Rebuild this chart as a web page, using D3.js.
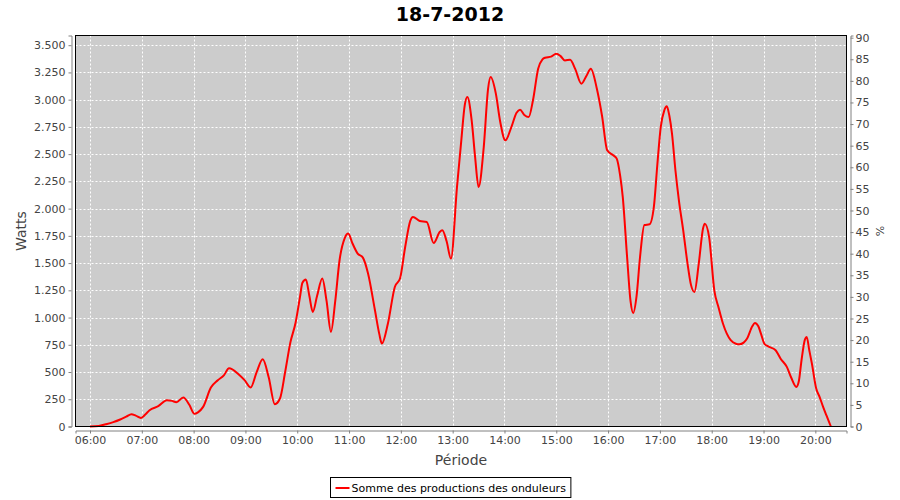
<!DOCTYPE html>
<html><head><meta charset="utf-8">
<script src="https://cdn.jsdelivr.net/npm/d3@7"></script>
<style>body{margin:0;background:#fff}svg{display:block}</style>
</head><body><svg id="c" width="900" height="500"></svg>
<script>
const chartTitle = "18-7-2012";
const seriesName = "Somme des productions des onduleurs";
const times = ["06:00","06:10","06:18","06:27","06:35","06:42","06:48","06:53","06:59","07:04","07:09","07:19","07:29","07:35","07:40","07:48","07:55","08:01","08:05","08:11","08:20","08:28","08:35","08:41","08:52","08:59","09:06","09:13","09:20","09:27","09:34","09:40","09:46","09:52","09:58","10:03","10:06","10:10","10:14","10:18","10:23","10:29","10:34","10:39","10:44","10:49","10:55","10:59","11:04","11:10","11:16","11:22","11:30","11:35","11:38","11:45","11:53","11:59","12:05","12:11","12:14","12:22","12:30","12:38","12:45","12:48","12:53","12:58","13:05","13:10","13:14","13:17","13:22","13:26","13:30","13:36","13:41","13:44","13:50","13:55","14:01","14:08","14:14","14:18","14:23","14:28","14:33","14:39","14:44","14:47","14:54","15:00","15:05","15:10","15:16","15:22","15:29","15:35","15:40","15:47","15:53","15:59","16:06","16:10","16:14","16:17","16:22","16:26","16:29","16:33","16:37","16:42","16:48","16:53","16:57","17:01","17:05","17:08","17:11","17:14","17:18","17:22","17:27","17:32","17:36","17:40","17:45","17:50","17:52","17:57","18:03","18:08","18:13","18:22","18:28","18:32","18:37","18:41","18:47","18:50","18:54","18:57","19:01","19:05","19:14","19:20","19:27","19:32","19:38","19:41","19:44","19:48","19:50","19:53","19:56","20:01","20:05","20:09","20:13","20:18"];
const watts = [0,5,20,40,64,90,113,100,79,110,150,186,241,235,223,266,200,116,130,180,358,425,470,535,480,425,358,500,617,450,205,257,500,770,950,1180,1320,1349,1200,1051,1200,1358,1150,868,1150,1526,1730,1771,1680,1587,1550,1404,1067,850,761,945,1281,1358,1648,1890,1923,1886,1877,1684,1785,1801,1700,1541,2198,2627,2950,3024,2810,2473,2198,2565,3100,3207,3055,2800,2627,2749,2880,2908,2860,2840,2994,3284,3370,3385,3395,3422,3400,3360,3367,3280,3147,3220,3284,3100,2850,2535,2489,2459,2300,2106,1556,1150,1042,1200,1556,1850,1856,2015,2400,2750,2900,2939,2850,2688,2350,2076,1800,1495,1300,1235,1495,1820,1862,1739,1250,1090,945,792,760,755,770,807,920,950,920,853,760,737,700,620,547,450,363,420,608,800,822,700,578,349,270,180,100,0];
const hourTicks = ["06:00","07:00","08:00","09:00","10:00","11:00","12:00","13:00","14:00","15:00","16:00","17:00","18:00","19:00","20:00"];
const wattTicks = [0,250,500,750,1000,1250,1500,1750,2000,2250,2500,2750,3000,3250,3500];
const pctTicks = [0,5,10,15,20,25,30,35,40,45,50,55,60,65,70,75,80,85,90];

const toMin = s => { const [h,m] = s.split(":").map(Number); return h*60+m; };
const data = times.map((t,i)=>({m:toMin(t), w:watts[i]}));

const L=75.5, R=846.5, T=35.5, B=426.5;
const svg = d3.select("#c");
const font = "DejaVu Sans, Verdana, sans-serif";
const x = d3.scaleLinear().domain([343.2, 1236.1]).range([L, R]);
const y = d3.scaleLinear().domain([0, 3589]).range([B, T]);
const y2 = d3.scaleLinear().domain([0, 90.5]).range([B, T]);
const loc = d3.formatLocale({decimal:",", thousands:".", grouping:[3], currency:["","€"]});
const fmt = loc.format(",d");

svg.append("rect").attr("x",L).attr("y",T).attr("width",R-L).attr("height",B-T).attr("fill","#cccccc");

const g = svg.append("g");
g.selectAll("line.v").data(hourTicks).join("line")
  .attr("x1",d=>Math.round(x(toMin(d)))+0.5).attr("x2",d=>Math.round(x(toMin(d)))+0.5)
  .attr("y1",T).attr("y2",B).attr("stroke","#fff").attr("stroke-width",1).attr("stroke-dasharray","2,2");
g.selectAll("line.h").data(wattTicks).join("line")
  .attr("y1",d=>Math.round(y(d))+0.5).attr("y2",d=>Math.round(y(d))+0.5)
  .attr("x1",L).attr("x2",R).attr("stroke","#fff").attr("stroke-width",1).attr("stroke-dasharray","2,2");

const line = d3.line().x(d=>x(d.m)).y(d=>y(d.w)).curve(d3.curveMonotoneX);
svg.append("path").datum(data).attr("d",line).attr("fill","none").attr("stroke","#ff0000").attr("stroke-width",2).attr("stroke-linejoin","round");

svg.append("rect").attr("x",L).attr("y",T).attr("width",R-L).attr("height",B-T).attr("fill","none").attr("stroke","#000").attr("stroke-width",1);

function styleAxis(sel){
  sel.selectAll("path.domain").attr("stroke","#808080");
  sel.selectAll(".tick line").attr("stroke","#808080");
  sel.selectAll(".tick text").attr("fill","#444").style("font-family",font).style("font-size","11px");
}
const xAxis = d3.axisBottom(x).tickValues(hourTicks.map(toMin)).tickFormat((d,i)=>hourTicks[i]).tickSizeOuter(0).tickSize(3).tickPadding(3);
svg.append("g").attr("transform",`translate(0,${B+4})`).call(xAxis).call(styleAxis);
const yAxis = d3.axisLeft(y).tickValues(wattTicks).tickFormat(fmt).tickSizeOuter(0).tickSize(3).tickPadding(3);
svg.append("g").attr("transform",`translate(${L-4},0)`).call(yAxis).call(styleAxis);
const y2Axis = d3.axisRight(y2).tickValues(pctTicks).tickFormat(d3.format("d")).tickSizeOuter(0).tickSize(3).tickPadding(2);
svg.append("g").attr("transform",`translate(${R+4},0)`).call(y2Axis).call(styleAxis);

svg.append("text").attr("x",450).attr("y",21).attr("text-anchor","middle")
  .style("font-family",font).style("font-size","19px").style("font-weight","bold").attr("fill","#000").text(chartTitle);
svg.append("text").attr("transform",`translate(26,${(T+B)/2}) rotate(-90)`).attr("text-anchor","middle")
  .style("font-family",font).style("font-size","14px").attr("fill","#444").text("Watts");
svg.append("text").attr("transform",`translate(884,${(T+B)/2}) rotate(-90)`).attr("text-anchor","middle")
  .style("font-family",font).style("font-size","11px").attr("fill","#444").text("%");
svg.append("text").attr("x",(L+R)/2).attr("y",465).attr("text-anchor","middle")
  .style("font-family",font).style("font-size","14px").attr("fill","#444").text("Période");

const lg = svg.append("g");
const lt = lg.append("text").attr("x",0).attr("y",0).style("font-family",font).style("font-size","11px").attr("fill","#000").text(seriesName);
const tw = lt.node().getComputedTextLength();
const boxW = tw + 26, bx = Math.round(450 - boxW/2)+0.5;
lt.attr("x", bx+21).attr("y",492);
lg.insert("rect","text").attr("x",bx).attr("y",477.5).attr("width",boxW).attr("height",20).attr("fill","#fff").attr("stroke","#000");
lg.append("line").attr("x1",bx+5).attr("x2",bx+19).attr("y1",488).attr("y2",488).attr("stroke","#ff0000").attr("stroke-width",2);
</script></body></html>
